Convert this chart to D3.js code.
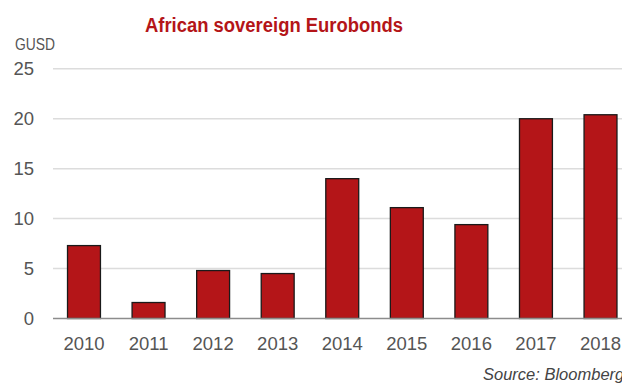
<!DOCTYPE html>
<html><head><meta charset="utf-8">
<script src="https://cdn.jsdelivr.net/npm/d3@7"></script>
<style>body{margin:0;background:#fff;overflow:hidden}svg{display:block}</style>
</head><body>
<script>
const categories = ["2010","2011","2012","2013","2014","2015","2016","2017","2018"];
const values = [7.3, 1.6, 4.8, 4.5, 14.0, 11.1, 9.4, 20.0, 20.4];
const yTicks = [0, 5, 10, 15, 20, 25];
const title = "African sovereign Eurobonds";
const unit = "GUSD";
const source = "Source: Bloomberg";

const W = 622, H = 383;
const svg = d3.select("body").append("svg").attr("width", W).attr("height", H);
const font = "'Liberation Sans', Arial, Helvetica, sans-serif";

const x = d3.scaleBand().domain(categories).range([51.7, 632.8]).paddingInner(0.49).paddingOuter(0.245);
const y = d3.scaleLinear().domain([0, 25]).range([318.5, 68.8]);

// gridlines
svg.append("g").selectAll("line").data(yTicks.filter(d => d > 0)).join("line")
  .attr("x1", 53).attr("x2", W).attr("y1", d => y(d)).attr("y2", d => y(d))
  .attr("stroke", "#dcdcdc").attr("stroke-width", 1.5);

// y labels
svg.append("g").selectAll("text").data(yTicks).join("text")
  .attr("x", 34).attr("y", d => y(d)).attr("dy", "0.36em")
  .attr("text-anchor", "end").attr("font-family", font).attr("font-size", 18.5)
  .attr("fill", "#555").text(d => d);

// bars
svg.append("g").selectAll("rect").data(values).join("rect")
  .attr("x", (d, i) => x(categories[i]))
  .attr("width", x.bandwidth())
  .attr("y", d => y(d))
  .attr("height", d => y(0) - y(d))
  .attr("fill", "#b41518").attr("stroke", "#1a1a1a").attr("stroke-width", 1.3);

// baseline
svg.append("line").attr("x1", 53).attr("x2", W).attr("y1", y(0)).attr("y2", y(0))
  .attr("stroke", "#8c8c8c").attr("stroke-width", 1.5);

// x labels
svg.append("g").selectAll("text").data(categories).join("text")
  .attr("x", d => x(d) + x.bandwidth() / 2).attr("y", 350)
  .attr("text-anchor", "middle").attr("font-family", font).attr("font-size", 18.5)
  .attr("fill", "#555").text(d => d);

// title
svg.append("text").attr("x", 145).attr("y", 32)
  .attr("font-family", font).attr("font-weight", "bold").attr("font-size", 20)
  .attr("textLength", 258).attr("lengthAdjust", "spacingAndGlyphs")
  .attr("fill", "#b41518").text(title);

// unit
svg.append("text").attr("x", 15).attr("y", 50).attr("font-family", font)
  .attr("font-size", 16.5).attr("textLength", 40).attr("lengthAdjust", "spacingAndGlyphs")
  .attr("fill", "#555").text(unit);

// source
svg.append("text").attr("x", 483).attr("y", 380).attr("font-family", font)
  .attr("font-size", 16.5).attr("font-style", "italic").attr("fill", "#444").text(source);
</script>
</body></html>
